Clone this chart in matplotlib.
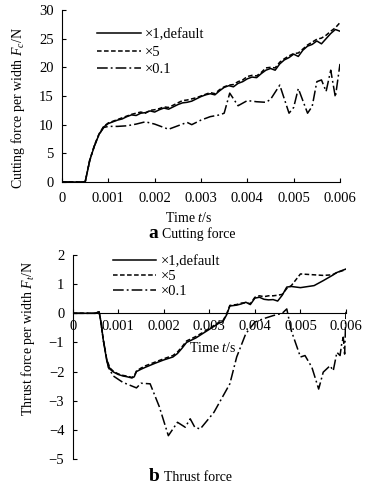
import numpy as np
import matplotlib
matplotlib.use("Agg")
import matplotlib.pyplot as plt

plt.rcParams['font.family'] = ['Liberation Serif', 'DejaVu Serif']
plt.rcParams['mathtext.fontset'] = 'custom'
plt.rcParams['mathtext.rm'] = 'Liberation Serif'
plt.rcParams['mathtext.it'] = 'Liberation Serif:italic'
plt.rcParams['mathtext.bf'] = 'Liberation Serif:bold'
plt.rcParams['axes.unicode_minus'] = True

# ---------------- data: (a) cutting force ----------------
t_cut = [0, 0.0005, 0.0006, 0.0007, 0.0008, 0.0009, 0.001, 0.0011, 0.0012, 0.0013, 0.0014,
         0.0015, 0.0016, 0.0017, 0.0018, 0.0019, 0.002, 0.0021, 0.0022, 0.0023, 0.0024,
         0.0025, 0.0026, 0.0027, 0.0028, 0.0029, 0.003, 0.0031, 0.0032, 0.0033, 0.0034,
         0.0035, 0.0036, 0.0037, 0.0038, 0.0039, 0.004, 0.0041, 0.0042, 0.0043, 0.0044,
         0.0045, 0.0046, 0.0047, 0.0048, 0.0049, 0.005, 0.0051, 0.0052, 0.0053, 0.0054,
         0.0055, 0.0056, 0.0057, 0.0058, 0.0059, 0.006]
cut_x1 = [0, 0, 3.8, 6.3, 8.3, 9.6, 10.2, 10.5, 10.8, 11.0, 11.4, 11.7, 11.6, 12.0, 12.1,
          12.4, 12.2, 12.6, 12.9, 12.7, 13.1, 13.5, 13.8, 13.9, 14.1, 14.5, 14.9, 15.2,
          15.4, 15.2, 15.9, 16.5, 16.8, 16.6, 17.2, 17.5, 18.0, 18.3, 18.2, 18.9, 19.5,
          19.8, 19.5, 20.6, 21.3, 21.7, 22.3, 21.9, 23.0, 23.7, 24.0, 24.6, 24.1, 25.0,
          25.9, 26.6, 26.3]
cut_x5 = [0, 0, 3.9, 6.4, 8.4, 9.7, 10.3, 10.6, 10.9, 11.2, 11.5, 11.8, 12.0, 12.2, 12.0,
          12.5, 12.6, 12.8, 13.1, 13.0, 13.4, 13.8, 14.2, 14.3, 14.5, 14.7, 15.0, 15.3,
          15.6, 15.4, 16.1, 16.6, 16.9, 17.0, 17.5, 17.8, 18.4, 18.6, 18.5, 19.1, 19.9,
          20.0, 19.9, 20.9, 21.5, 22.0, 22.4, 22.5, 23.2, 23.9, 24.4, 24.9, 25.1, 25.6,
          26.3, 26.9, 27.8]
t_cut01 = [0, 0.0005, 0.0006, 0.0007, 0.0008, 0.0009, 0.001, 0.0012, 0.0014, 0.0016,
           0.0018, 0.002, 0.0023, 0.0025, 0.0027, 0.0028, 0.003, 0.0032, 0.0034, 0.0035,
           0.00362, 0.0038, 0.004, 0.0042, 0.0044, 0.0045, 0.0047, 0.0049, 0.005, 0.0051,
           0.0053, 0.0054, 0.0055, 0.0056, 0.0057, 0.0058, 0.0059, 0.006]
cut_x01 = [0, 0, 3.8, 6.3, 8.3, 9.5, 9.7, 9.7, 9.8, 10.1, 10.5, 10.1, 9.2, 9.8, 10.4,
           10.0, 10.8, 11.4, 11.7, 12.0, 15.5, 13.3, 14.2, 14.0, 13.9, 14.4, 16.9, 12.0,
           13.0, 16.3, 12.0, 13.2, 17.5, 17.8, 15.8, 19.5, 14.8, 20.6]

# ---------------- data: (b) thrust force ----------------
t_thr = [0, 0.0005, 0.00058, 0.00062, 0.00067, 0.00075, 0.00082, 0.0009, 0.001, 0.0011,
         0.0012, 0.0013, 0.00135, 0.0014, 0.0015, 0.0016, 0.0018, 0.002, 0.0022, 0.0023,
         0.0024, 0.0025, 0.0027, 0.0029, 0.003, 0.0031, 0.0032, 0.0033, 0.00338, 0.00345,
         0.0036, 0.0037, 0.0038, 0.0039, 0.004, 0.0041, 0.0042, 0.0043, 0.0044, 0.0045,
         0.0046, 0.0047, 0.0048, 0.005, 0.0053, 0.0055, 0.0057, 0.0058, 0.006]
thr_x1 = [0, 0, 0.05, -0.3, -0.9, -1.65, -1.92, -2.02, -2.1, -2.15, -2.18, -2.22, -2.18,
          -2.0, -1.92, -1.85, -1.72, -1.6, -1.5, -1.38, -1.2, -1.0, -0.85, -0.65, -0.55,
          -0.45, -0.35, -0.28, -0.05, 0.25, 0.28, 0.32, 0.38, 0.3, 0.52, 0.55, 0.48, 0.46,
          0.47, 0.42, 0.62, 0.9, 0.92, 0.88, 0.95, 1.12, 1.3, 1.4, 1.52]
thr_x5 = [0, 0, 0.05, -0.3, -0.9, -1.6, -1.88, -2.0, -2.08, -2.13, -2.16, -2.2, -2.15,
          -1.98, -1.88, -1.8, -1.68, -1.56, -1.45, -1.33, -1.15, -0.95, -0.8, -0.62, -0.52,
          -0.42, -0.32, -0.25, -0.02, 0.27, 0.3, 0.35, 0.36, 0.33, 0.55, 0.6, 0.57, 0.6,
          0.6, 0.62, 0.65, 0.85, 0.95, 1.35, 1.32, 1.3, 1.32, 1.4, 1.5]
t_thr01 = [0, 0.0005, 0.00058, 0.00062, 0.00067, 0.00078, 0.00089, 0.0011, 0.0014, 0.0015,
           0.0017, 0.0019, 0.0021, 0.0023, 0.00247, 0.00258, 0.00268, 0.0028, 0.0031,
           0.00345, 0.0036, 0.0038, 0.004, 0.0042, 0.0044, 0.0046, 0.0047, 0.0048, 0.005,
           0.0051, 0.00525, 0.0054, 0.0055, 0.00565, 0.00572, 0.0058, 0.00587, 0.0059,
           0.00594, 0.00597, 0.006]
thr_x01 = [0, 0, 0.05, -0.3, -0.9, -1.85, -2.15, -2.37, -2.56, -2.4, -2.42, -3.2, -4.2,
           -3.74, -3.91, -3.62, -3.91, -3.97, -3.4, -2.42, -1.5, -0.7, -0.3, -0.18, -0.08,
           0.0, 0.15, -0.6, -1.5, -1.45, -1.85, -2.6, -2.02, -1.8, -1.97, -1.34, -1.45,
           -1.1, -0.82, -1.4, 0.05]

labels = ['\u00d71,default', '\u00d75', '\u00d70.1']
xticks = [0, 0.001, 0.002, 0.003, 0.004, 0.005, 0.006]
xticklabels = ['0', '0.001', '0.002', '0.003', '0.004', '0.005', '0.006']

W, H = 373, 487
fig = plt.figure(figsize=(W / 100, H / 100), dpi=100)
FS = 10.5
LFS = 10
lw = 1.1
styles = [dict(ls='-', lw=lw), dict(ls=(0, (3, 1.6)), lw=lw), dict(ls=(0, (7, 2, 1.2, 2)), lw=lw)]


def rect(l, r, t, b):
    return [l / W, 1 - b / H, (r - l) / W, (b - t) / H]


# ---- top axes ----
ax1 = fig.add_axes(rect(62, 340, 10, 182))
ax1.plot(t_cut, cut_x1, color='black', label=labels[0], **styles[0])
ax1.plot(t_cut, cut_x5, color='black', label=labels[1], **styles[1])
ax1.plot(t_cut01, cut_x01, color='black', label=labels[2], **styles[2])
ax1.set_xlim(0, 0.006)
ax1.set_ylim(0, 30)
ax1.set_xticks(xticks)
ax1.set_xticklabels(xticklabels)
ax1.set_yticks(range(0, 31, 5))
for s in ['top', 'right']:
    ax1.spines[s].set_visible(False)
ax1.tick_params(direction='in', length=3, width=0.8, labelsize=FS, pad=7)
ax1.tick_params(axis='y', pad=6)
ax1.legend(loc='upper left', bbox_to_anchor=(0.105, 0.93), frameon=False, fontsize=FS,
           handlelength=3.0, handletextpad=0.3, labelspacing=0.3, borderaxespad=0)

# ---- bottom axes ----
ax2 = fig.add_axes(rect(72.7, 346, 255, 459))
ax2.plot(t_thr, thr_x1, color='black', label=labels[0], **styles[0])
ax2.plot(t_thr, thr_x5, color='black', label=labels[1], **styles[1])
ax2.plot(t_thr01, thr_x01, color='black', label=labels[2], **styles[2])
ax2.set_xlim(0, 0.006)
ax2.set_ylim(-5, 2)
ax2.set_xticks(xticks)
ax2.set_xticklabels(xticklabels)
ax2.set_yticks(range(-5, 3))
for s in ['top', 'right']:
    ax2.spines[s].set_visible(False)
ax2.spines['bottom'].set_position(('data', 0))
ax2.tick_params(direction='in', length=3, width=0.8, labelsize=FS, pad=5)
ax2.tick_params(axis='y', pad=6)
ax2.legend(loc='upper left', bbox_to_anchor=(0.125, 1.03), frameon=False, fontsize=FS,
           handlelength=3.0, handletextpad=0.3, labelspacing=0.12, borderaxespad=0)

# ---- labels ----
fig.text(18 / W, 1 - 108 / H, 'Cutting force per width $F_c$/N', rotation=90,
         ha='center', va='center', fontsize=LFS)
fig.text(189 / W, 1 - 218 / H, 'Time $t$/s', ha='center', va='center', fontsize=LFS)
fig.text(158 / W, 1 - 238 / H, 'a', ha='right', va='baseline', fontsize=14,
         fontweight='bold')
fig.text(162 / W, 1 - 238 / H, 'Cutting force', ha='left', va='baseline', fontsize=LFS)
fig.text(28 / W, 1 - 338 / H, 'Thrust force per width $F_t$/N', rotation=90,
         ha='center', va='center', fontsize=LFS)
fig.text(213 / W, 1 - 348 / H, 'Time $t$/s', ha='center', va='center', fontsize=LFS)
fig.text(160 / W, 1 - 481 / H, 'b', ha='right', va='baseline', fontsize=14,
         fontweight='bold')
fig.text(164 / W, 1 - 481 / H, 'Thrust force', ha='left', va='baseline', fontsize=LFS)

fig.savefig('out.png', dpi=100)
